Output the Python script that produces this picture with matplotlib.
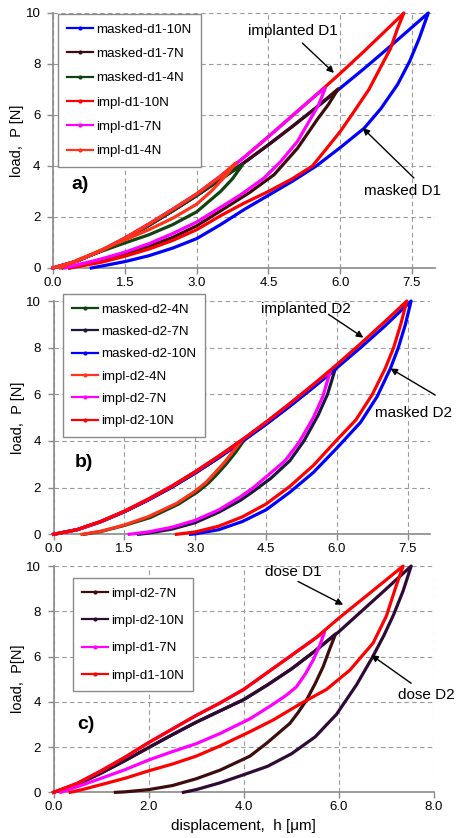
import matplotlib.pyplot as plt
from matplotlib.lines import Line2D
from matplotlib.ticker import FormatStrFormatter, MultipleLocator

plt.rcParams['font.family'] = ['Liberation Sans', 'DejaVu Sans']

# ---------------- data (h in um, P in N) ----------------
# panel a) dose D1 : masked vs implanted
a_masked_10N_h = [0, 0.5, 1.0, 1.5, 2.0, 2.5, 3.0, 3.5, 4.0, 4.5, 5.0, 5.5, 6.0, 6.5, 7.0, 7.5, 7.84,
                  7.65, 7.45, 7.2, 6.85, 6.5, 6.0, 5.5, 5.0, 4.5, 4.0, 3.5, 3.0, 2.5, 2.0, 1.5, 1.0, 0.8]
a_masked_10N_p = [0, 0.27, 0.67, 1.15, 1.67, 2.24, 2.84, 3.48, 4.14, 4.83, 5.55, 6.29, 7.05, 7.82, 8.62, 9.44, 10,
                  9.0, 8.1, 7.2, 6.25, 5.48, 4.72, 4.0, 3.4, 2.85, 2.3, 1.7, 1.15, 0.78, 0.48, 0.25, 0.07, 0]
a_masked_7N_h = [0, 0.5, 1.0, 1.5, 2.0, 2.5, 3.0, 3.5, 4.0, 4.5, 5.0, 5.5, 5.96,
                 5.75, 5.53, 5.11, 4.62, 4.1, 3.72, 3.0, 2.5, 2.0, 1.5, 1.0, 0.5, 0.35]
a_masked_7N_p = [0, 0.27, 0.67, 1.15, 1.67, 2.24, 2.84, 3.48, 4.14, 4.83, 5.55, 6.29, 7.03,
                 6.4, 5.85, 4.7, 3.66, 2.95, 2.5, 1.65, 1.2, 0.85, 0.55, 0.3, 0.08, 0]
a_masked_4N_h = [0, 0.5, 1.0, 1.5, 2.0, 2.5, 3.0, 3.5, 3.96, 3.75, 3.5, 3.0, 2.5, 2.0, 1.5, 1.0, 0.5, 0.2]
a_masked_4N_p = [0, 0.27, 0.67, 1.15, 1.67, 2.24, 2.84, 3.48, 4.05, 3.5, 3.0, 2.2, 1.7, 1.3, 0.98, 0.65, 0.3, 0]
a_impl_10N_h = [0, 0.5, 1.0, 1.5, 2.0, 2.5, 3.0, 3.5, 4.0, 4.5, 5.0, 5.5, 6.0, 6.5, 7.0, 7.33,
                7.2, 7.05, 6.88, 6.6, 6.24, 6.0, 5.7, 5.42, 5.0, 4.5, 4.0, 3.5, 3.0, 2.5, 2.0, 1.5, 1.0, 0.5, 0.35]
a_impl_10N_p = [0, 0.27, 0.68, 1.17, 1.72, 2.3, 2.9, 3.6, 4.35, 5.15, 5.97, 6.79, 7.63, 8.5, 9.4, 10,
                9.4, 8.6, 8.0, 7.0, 6.0, 5.35, 4.65, 4.0, 3.5, 3.0, 2.55, 2.05, 1.5, 1.08, 0.74, 0.46, 0.22, 0.05, 0]
a_impl_7N_h = [0, 0.5, 1.0, 1.5, 2.0, 2.5, 3.0, 3.5, 4.0, 4.5, 5.0, 5.5, 5.69,
               5.55, 5.39, 5.11, 4.76, 4.41, 3.92, 3.5, 3.0, 2.5, 2.0, 1.5, 1.0, 0.5, 0.25]
a_impl_7N_p = [0, 0.27, 0.68, 1.17, 1.72, 2.3, 2.9, 3.6, 4.35, 5.15, 5.97, 6.79, 7.06,
               6.4, 5.88, 4.97, 4.18, 3.53, 2.87, 2.38, 1.8, 1.35, 0.95, 0.62, 0.35, 0.12, 0]
a_impl_4N_h = [0, 0.5, 1.0, 1.5, 2.0, 2.5, 3.0, 3.5, 3.82, 3.6, 3.3, 3.0, 2.5, 2.0, 1.5, 1.0, 0.5, 0.15]
a_impl_4N_p = [0, 0.27, 0.68, 1.17, 1.72, 2.3, 2.9, 3.6, 4.12, 3.6, 3.0, 2.5, 1.95, 1.5, 1.1, 0.7, 0.3, 0]

# panel b) dose D2 : masked vs implanted
b_masked_4N_h = [0, 0.5, 1.0, 1.5, 2.0, 2.5, 3.0, 3.5, 4.05, 3.85, 3.65, 3.45, 3.28, 3.05, 2.65, 2.05, 1.5, 1.0, 0.65]
b_masked_4N_p = [0, 0.2, 0.54, 0.97, 1.47, 2.02, 2.63, 3.29, 4.08, 3.5, 3.0, 2.55, 2.2, 1.82, 1.3, 0.72, 0.38, 0.12, 0]
b_masked_7N_h = [0, 0.5, 1.0, 1.5, 2.0, 2.5, 3.0, 3.5, 4.0, 4.5, 5.0, 5.5, 5.96,
                 5.8, 5.6, 5.3, 5.0, 4.6, 4.2, 3.95, 3.5, 3.0, 2.5, 2.0, 1.8]
b_masked_7N_p = [0, 0.2, 0.54, 0.97, 1.47, 2.02, 2.63, 3.29, 3.99, 4.72, 5.49, 6.3, 7.06,
                 6.0, 5.1, 4.0, 3.15, 2.4, 1.8, 1.45, 0.95, 0.5, 0.22, 0.05, 0]
b_masked_10N_h = [0, 0.5, 1.0, 1.5, 2.0, 2.5, 3.0, 3.5, 4.0, 4.5, 5.0, 5.5, 6.0, 6.5, 7.0, 7.57,
                  7.45, 7.3, 7.13, 6.85, 6.5, 6.0, 5.5, 5.0, 4.5, 4.0, 3.5, 3.0, 2.9]
b_masked_10N_p = [0, 0.2, 0.54, 0.97, 1.47, 2.02, 2.63, 3.29, 3.99, 4.72, 5.49, 6.3, 7.14, 8.0, 8.9, 10,
                  9.0, 8.0, 7.1, 5.9, 4.8, 3.7, 2.65, 1.8, 1.05, 0.55, 0.2, 0.02, 0]
b_impl_4N_h = [0, 0.5, 1.0, 1.5, 2.0, 2.5, 3.0, 3.5, 4.0, 3.8, 3.6, 3.4, 3.24, 3.0, 2.6, 2.0, 1.5, 1.0, 0.6]
b_impl_4N_p = [0, 0.2, 0.55, 0.99, 1.5, 2.06, 2.68, 3.35, 4.06, 3.55, 3.04, 2.6, 2.25, 1.85, 1.32, 0.75, 0.4, 0.13, 0]
b_impl_7N_h = [0, 0.5, 1.0, 1.5, 2.0, 2.5, 3.0, 3.5, 4.0, 4.5, 5.0, 5.5, 5.86,
               5.7, 5.5, 5.2, 4.9, 4.58, 4.23, 3.95, 3.5, 3.0, 2.5, 2.0, 1.6]
b_impl_7N_p = [0, 0.2, 0.55, 0.99, 1.5, 2.06, 2.68, 3.35, 4.06, 4.81, 5.6, 6.42, 7.0,
               5.9, 5.0, 3.95, 3.15, 2.6, 2.0, 1.6, 1.05, 0.6, 0.3, 0.1, 0]
b_impl_10N_h = [0, 0.5, 1.0, 1.5, 2.0, 2.5, 3.0, 3.5, 4.0, 4.5, 5.0, 5.5, 6.0, 6.5, 7.0, 7.48,
                7.35, 7.2, 7.02, 6.75, 6.4, 6.0, 5.5, 5.0, 4.5, 4.0, 3.5, 3.0, 2.6]
b_impl_10N_p = [0, 0.2, 0.55, 0.99, 1.5, 2.06, 2.68, 3.35, 4.06, 4.81, 5.6, 6.42, 7.28, 8.17, 9.09, 10,
                9.0, 8.0, 7.1, 6.0, 4.9, 4.05, 2.95, 2.05, 1.3, 0.75, 0.35, 0.1, 0]

# panel c) implanted, dose D1 vs dose D2
c_d2_7N_h = [0, 0.5, 1.0, 1.5, 2.0, 2.5, 3.0, 3.5, 4.0, 4.5, 5.0, 5.5, 5.93,
             5.8, 5.67, 5.5, 5.32, 5.15, 4.97, 4.48, 4.13, 3.5, 3.0, 2.5, 2.0, 1.5, 1.3]
c_d2_7N_p = [0, 0.35, 0.85, 1.4, 1.98, 2.55, 3.1, 3.6, 4.1, 4.75, 5.45, 6.25, 7.0,
             6.3, 5.56, 4.8, 4.08, 3.55, 3.05, 2.17, 1.6, 0.98, 0.6, 0.3, 0.12, 0.02, 0]
c_d2_10N_h = [0, 0.5, 1.0, 1.5, 2.0, 2.5, 3.0, 3.5, 4.0, 4.5, 5.0, 5.5, 6.0, 6.5, 7.0, 7.52,
              7.35, 7.15, 6.95, 6.7, 6.37, 5.95, 5.5, 5.0, 4.5, 4.0, 3.5, 3.0, 2.73]
c_d2_10N_p = [0, 0.35, 0.85, 1.4, 1.98, 2.55, 3.1, 3.6, 4.1, 4.75, 5.45, 6.25, 7.1, 8.05, 9.0, 10,
              8.9, 7.85, 6.95, 5.95, 4.75, 3.45, 2.45, 1.7, 1.15, 0.78, 0.42, 0.12, 0]
c_d1_7N_h = [0, 0.5, 1.0, 1.5, 2.0, 2.5, 3.0, 3.5, 4.0, 4.5, 5.0, 5.5, 5.7,
             5.6, 5.46, 5.3, 5.11, 4.9, 4.62, 4.13, 3.5, 3.0, 2.5, 2.0, 1.5, 1.0, 0.5, 0.15]
c_d1_7N_p = [0, 0.4, 0.95, 1.55, 2.2, 2.8, 3.4, 3.95, 4.55, 5.3, 6.05, 6.8, 7.1,
             6.5, 5.85, 5.25, 4.67, 4.3, 3.9, 3.25, 2.6, 2.15, 1.8, 1.43, 1.0, 0.62, 0.25, 0]
c_d1_10N_h = [0, 0.5, 1.0, 1.5, 2.0, 2.5, 3.0, 3.5, 4.0, 4.5, 5.0, 5.5, 6.0, 6.5, 7.0, 7.35,
              7.2, 7.0, 6.72, 6.23, 5.74, 5.18, 4.62, 4.13, 3.5, 3.0, 2.5, 2.0, 1.5, 1.0, 0.6, 0.35]
c_d1_10N_p = [0, 0.4, 0.95, 1.55, 2.2, 2.8, 3.4, 3.95, 4.55, 5.3, 6.05, 6.8, 7.7, 8.55, 9.4, 10,
              9.1, 7.8, 6.6, 5.4, 4.55, 3.9, 3.2, 2.68, 2.05, 1.6, 1.25, 0.95, 0.62, 0.34, 0.12, 0]

# colours
BLUE = "#0000ff"
RED = "#ff0000"
ORANGE_RED = "#ff3319"
MAGENTA = "#ff00ff"
BROWN = "#3d0c0c"
GREEN = "#114211"
NAVY = "#1c1a3c"
PURPLE = "#2e0a36"
GRAY = "#8a8a8a"

fig = plt.figure(figsize=(4.62, 8.38), dpi=100, facecolor="white")


def style_axes(ax, xmax, xstep, label_y):
    ax.set_xlim(0, xmax)
    ax.set_ylim(0, 10)
    ax.xaxis.set_major_locator(MultipleLocator(xstep))
    ax.yaxis.set_major_locator(MultipleLocator(2))
    ax.xaxis.set_major_formatter(FormatStrFormatter("%.1f"))
    ax.grid(True, color="#9a9a9a", linestyle=(0, (4, 3)), linewidth=0.8)
    ax.set_axisbelow(True)
    for s in ["top", "right"]:
        ax.spines[s].set_visible(False)
    for s in ["left", "bottom"]:
        ax.spines[s].set_color(GRAY)
        ax.spines[s].set_linewidth(1.2)
    ax.tick_params(axis="both", direction="out", length=4.5, width=1, color=GRAY, labelsize=9.5)
    ax.tick_params(axis="x", pad=2)
    ax.tick_params(axis="y", pad=4.5)
    ax.yaxis.set_label_coords(-0.075, label_y)


def draw_curves(ax, curves):
    for h, p, color, label in curves:
        ax.plot(h, p, color=color, lw=2.3, clip_on=False, zorder=3)


def add_legend(ax, curves, anchor, spacing):
    handles = [Line2D([0], [0], color=c, lw=1.6, marker=".", markersize=4) for _, _, c, _ in curves]
    labels = [lab for _, _, _, lab in curves]
    leg = ax.legend(handles, labels, loc="upper left", bbox_to_anchor=anchor, borderaxespad=0,
                    fontsize=9.6, frameon=True, fancybox=False, framealpha=1, edgecolor=GRAY,
                    borderpad=0.7, handlelength=1.9, handletextpad=0.25, labelspacing=spacing)
    leg.get_frame().set_linewidth(1.0)
    leg.set_zorder(5)


def arrow(ax, tail, head):
    ax.annotate("", xy=head, xytext=tail, annotation_clip=False,
                arrowprops=dict(arrowstyle="-|>", color="black", lw=1.0, mutation_scale=10,
                                shrinkA=0, shrinkB=0))


# --- a) ---
ax_a = fig.add_axes([0.1147, 0.6802, 0.8268, 0.3043])
style_axes(ax_a, 7.98, 1.5, 0.50)
curves_a = [
    (a_masked_10N_h, a_masked_10N_p, BLUE, "masked-d1-10N"),
    (a_masked_7N_h, a_masked_7N_p, BROWN, "masked-d1-7N"),
    (a_masked_4N_h, a_masked_4N_p, GREEN, "masked-d1-4N"),
    (a_impl_10N_h, a_impl_10N_p, RED, "impl-d1-10N"),
    (a_impl_7N_h, a_impl_7N_p, MAGENTA, "impl-d1-7N"),
    (a_impl_4N_h, a_impl_4N_p, ORANGE_RED, "impl-d1-4N"),
]
draw_curves(ax_a, curves_a)
add_legend(ax_a, curves_a, (0.013, 0.996), 0.9)
ax_a.set_ylabel("load,  P [N]", fontsize=10.5)
ax_a.text(0.56, 3.29, "a)", fontsize=14, fontweight="bold", ha="center", va="center")
ax_a.text(5.02, 9.28, "implanted D1", fontsize=11, ha="center", va="center")
arrow(ax_a, (5.21, 8.82), (5.87, 7.65))
ax_a.text(7.3, 3.0, "masked D1", fontsize=11, ha="center", va="center")
arrow(ax_a, (7.54, 3.53), (6.47, 5.49))

# --- b) ---
ax_b = fig.add_axes([0.116, 0.3624, 0.8147, 0.2784])
style_axes(ax_b, 7.97, 1.5, 0.65)
curves_b = [
    (b_masked_4N_h, b_masked_4N_p, GREEN, "masked-d2-4N"),
    (b_masked_7N_h, b_masked_7N_p, NAVY, "masked-d2-7N"),
    (b_masked_10N_h, b_masked_10N_p, BLUE, "masked-d2-10N"),
    (b_impl_4N_h, b_impl_4N_p, ORANGE_RED, "impl-d2-4N"),
    (b_impl_7N_h, b_impl_7N_p, MAGENTA, "impl-d2-7N"),
    (b_impl_10N_h, b_impl_10N_p, RED, "impl-d2-10N"),
]
draw_curves(ax_b, curves_b)
add_legend(ax_b, curves_b, (0.025, 1.03), 0.75)
ax_b.set_ylabel("load,  P [N]", fontsize=10.5)
ax_b.text(0.64, 3.06, "b)", fontsize=14, fontweight="bold", ha="center", va="center")
ax_b.text(5.34, 9.64, "implanted D2", fontsize=11, ha="center", va="center")
arrow(ax_b, (5.82, 9.43), (6.56, 8.43))
ax_b.text(7.62, 5.19, "masked D2", fontsize=11, ha="center", va="center")
arrow(ax_b, (8.08, 5.97), (7.13, 7.11))

# --- c) ---
ax_c = fig.add_axes([0.116, 0.0545, 0.8234, 0.27])
style_axes(ax_c, 8.0, 2.0, 0.567)
curves_c = [
    (c_d2_7N_h, c_d2_7N_p, BROWN, "impl-d2-7N"),
    (c_d2_10N_h, c_d2_10N_p, PURPLE, "impl-d2-10N"),
    (c_d1_7N_h, c_d1_7N_p, MAGENTA, "impl-d1-7N"),
    (c_d1_10N_h, c_d1_10N_p, RED, "impl-d1-10N"),
]
draw_curves(ax_c, curves_c)
add_legend(ax_c, curves_c, (0.051, 0.947), 1.12)
ax_c.set_ylabel("load,  P[N]", fontsize=10.5)
ax_c.set_xlabel("displacement,  h [\u03bcm]", fontsize=11, labelpad=4)
ax_c.text(0.67, 2.98, "c)", fontsize=14, fontweight="bold", ha="center", va="center")
ax_c.text(5.04, 9.73, "dose D1", fontsize=11, ha="center", va="center")
arrow(ax_c, (5.14, 9.32), (6.09, 8.29))
ax_c.text(7.84, 4.3, "dose D2", fontsize=11, ha="center", va="center")
arrow(ax_c, (7.52, 4.82), (6.68, 6.07))

fig.savefig("out.png", dpi=100, facecolor="white")
